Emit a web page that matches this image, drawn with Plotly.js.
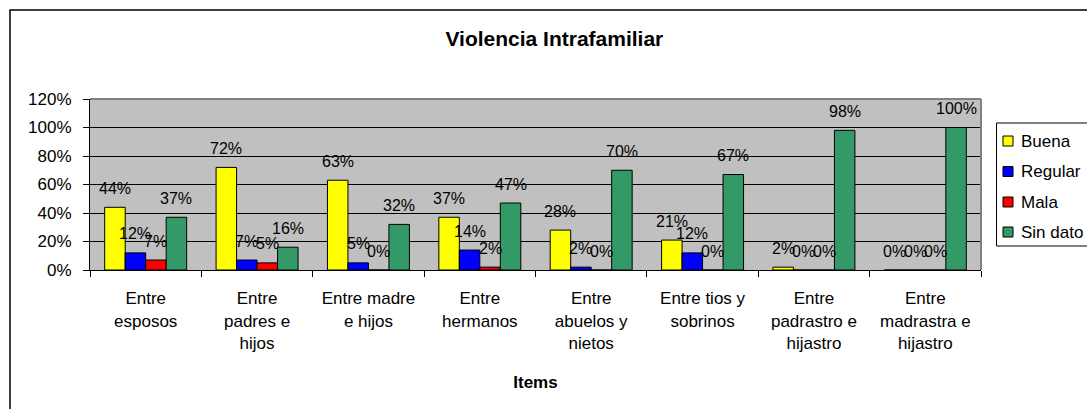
<!DOCTYPE html>
<html>
<head>
<meta charset="utf-8">
<script src="https://cdn.plot.ly/plotly-3.0.1.min.js"></script>
<style>html,body{margin:0;padding:0;background:#fff;}#chart{width:1087px;height:409px;}</style>
</head>
<body>
<div id="chart"></div>
<script>
const categories = [
  "Entre<br>esposos",
  "Entre<br>padres e<br>hijos",
  "Entre madre<br>e hijos",
  "Entre<br>hermanos",
  "Entre<br>abuelos y<br>nietos",
  "Entre tios y<br>sobrinos",
  "Entre<br>padrastro e<br>hijastro",
  "Entre<br>madrastra e<br>hijastro"
];
const buena   = [44, 72, 63, 37, 28, 21, 2, 0];
const regular = [12, 7, 5, 14, 2, 12, 0, 0];
const mala    = [7, 5, 0, 2, 0, 0, 0, 0];
const sinDato = [37, 16, 32, 47, 70, 67, 98, 100];
const seriesNames = ["Buena", "Regular", "Mala", "Sin dato"];
const seriesColors = ["#FFFF00", "#0000FF", "#FF0000", "#339966"];
const yTickVals = [0, 20, 40, 60, 80, 100, 120];
const yTickText = ["0%", "20%", "40%", "60%", "80%", "100%", "120%"];

const FONT = "Liberation Sans, Arial, sans-serif";
const allSeries = [buena, regular, mala, sinDato];

// plot-area geometry (pixels) for converting layout positions to paper coords
const PL = 90, PR = 981, PT = 99, PB = 270;
const px = v => (v - PL) / (PR - PL);
const py = v => (PB - v) / (PB - PT);

const traces = allSeries.map((vals, i) => ({
  type: "bar",
  name: seriesNames[i],
  x: categories,
  y: vals,
  showlegend: false,
  marker: { color: seriesColors[i], line: { color: "#000", width: 1 } },
  hoverinfo: "skip"
}));

// data labels above each bar
const barW = 20.5;
const annotations = [];
allSeries.forEach((vals, i) => {
  vals.forEach((v, j) => {
    annotations.push({
      x: categories[j], y: v, xref: "x", yref: "y",
      xshift: (i - 1.5) * barW, yshift: 19,
      text: v + "%", showarrow: false,
      font: { family: FONT, size: 16, color: "#000" }
    });
  });
});

const shapes = [
  { type: "line", xref: "paper", yref: "paper", x0: 0, x1: 1, y0: 1, y1: 1,
    line: { color: "#808080", width: 2 }, layer: "above" },
  { type: "line", xref: "paper", yref: "paper", x0: 1, x1: 1, y0: 0, y1: 1,
    line: { color: "#808080", width: 2 }, layer: "above" },
  { type: "rect", xref: "paper", yref: "paper", x0: px(10), x1: px(1200), y0: py(500), y1: py(10),
    line: { color: "#000", width: 1.5 }, fillcolor: "rgba(0,0,0,0)", layer: "below" },
  // legend box
  { type: "rect", xref: "paper", yref: "paper", x0: px(996.5), x1: px(1200), y0: py(246), y1: py(123),
    line: { color: "#000", width: 1 }, fillcolor: "#fff", layer: "above" }
];

// legend entries
const legendRows = [141, 171.5, 202, 232];
seriesNames.forEach((name, i) => {
  const cy = legendRows[i];
  shapes.push({
    type: "rect", xref: "paper", yref: "paper",
    x0: px(1003), x1: px(1013), y0: py(cy + 5), y1: py(cy - 5),
    line: { color: "#000", width: 1 }, fillcolor: seriesColors[i], layer: "above"
  });
  annotations.push({
    xref: "paper", yref: "paper", x: px(1019), y: py(cy),
    xanchor: "left", yanchor: "middle", showarrow: false,
    text: name, font: { family: FONT, size: 17, color: "#000" }
  });
});

const layout = {
  width: 1087, height: 409,
  margin: { l: PL, r: 1087 - PR, t: PT, b: 409 - PB, autoexpand: false },
  paper_bgcolor: "#fff",
  plot_bgcolor: "#C0C0C0",
  font: { family: FONT, color: "#000" },
  showlegend: false,
  title: {
    text: "<b>Violencia Intrafamiliar</b>",
    font: { family: FONT, size: 21, color: "#000" },
    x: 0.51, xref: "container", xanchor: "center",
    y: 0.905, yref: "container", yanchor: "middle"
  },
  barmode: "group",
  bargap: 0.264,
  bargroupgap: 0,
  xaxis: {
    type: "category",
    showgrid: false,
    showline: true, linecolor: "#000", linewidth: 1,
    ticks: "outside", tickson: "boundaries", ticklen: 6, tickcolor: "#000",
    tickfont: { family: FONT, size: 17, color: "#000" },
    tickangle: 0,
    ticklabelstandoff: 13,
    title: { text: "<b>Items</b>", font: { family: FONT, size: 17, color: "#000" }, standoff: 24 },
    automargin: false
  },
  yaxis: {
    range: [0, 120],
    tickmode: "array",
    tickvals: yTickVals,
    ticktext: yTickText,
    showgrid: true, gridcolor: "#000", gridwidth: 1,
    zeroline: false,
    showline: true, linecolor: "#000", linewidth: 1,
    ticks: "outside", ticklen: 6, tickcolor: "#000",
    tickfont: { family: FONT, size: 17, color: "#000" },
    ticklabelstandoff: 8,
    automargin: false
  },
  shapes: shapes,
  annotations: annotations
};

Plotly.newPlot("chart", traces, layout, { displayModeBar: false, staticPlot: true });
</script>
</body>
</html>
